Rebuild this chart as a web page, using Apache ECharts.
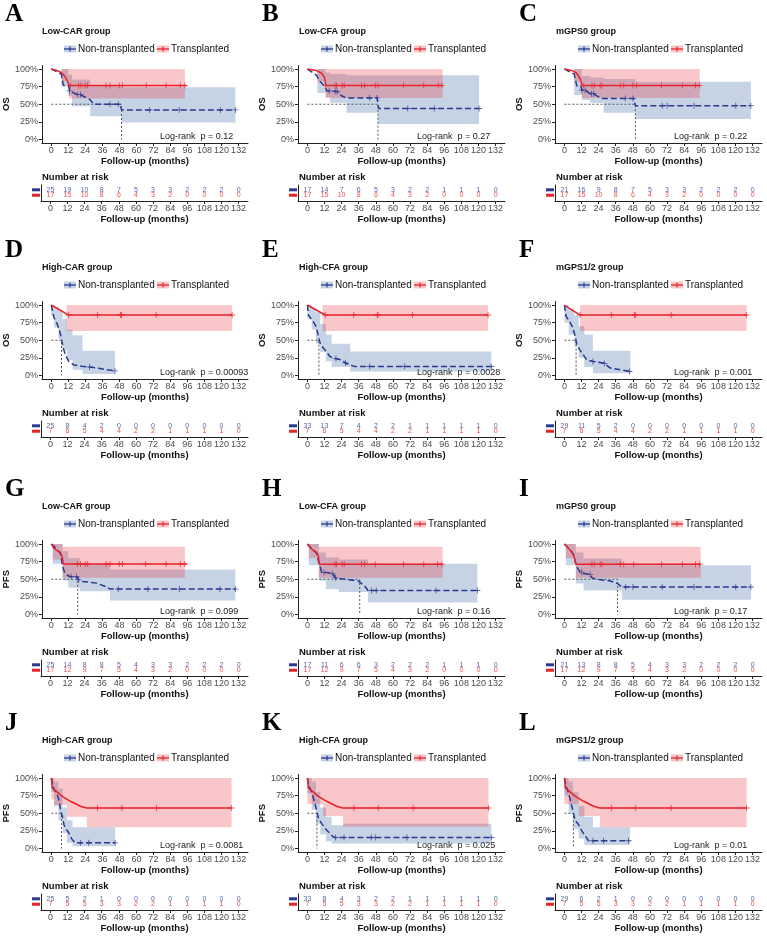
<!DOCTYPE html>
<html>
<head>
<meta charset="utf-8">
<script src="https://cdn.jsdelivr.net/npm/echarts@6/dist/echarts.min.js"></script>
<style>
html, body { margin: 0; padding: 0; background: #fff; }
#chart { width: 767px; height: 940px; }
</style>
</head>
<body>
<div id="chart"></div>
<script>
// panel texts
const panelLetters = ["A", "B", "C", "D", "E", "F", "G", "H", "I", "J", "K", "L"];
const groupTitles = [
  "Low-CAR group", "Low-CFA group", "mGPS0 group",
  "High-CAR group", "High-CFA group", "mGPS1/2 group",
  "Low-CAR group", "Low-CFA group", "mGPS0 group",
  "High-CAR group", "High-CFA group", "mGPS1/2 group"
];
const rowYNames = ["OS", "OS", "PFS", "PFS"];
const pValues = ["0.12", "0.27", "0.22", "0.00093", "0.0028", "0.001", "0.099", "0.16", "0.17", "0.0081", "0.025", "0.01"];
const timeTicks = [0, 12, 24, 36, 48, 60, 72, 84, 96, 108, 120, 132];
const pctTicks = [0, 0.25, 0.5, 0.75, 1];

// number at risk
const riskNon = [
  [25, 19, 10, 8, 7, 5, 3, 3, 2, 2, 2, 0],
  [17, 14, 7, 6, 5, 3, 2, 2, 1, 1, 1, 0],
  [21, 16, 9, 8, 7, 5, 3, 3, 2, 2, 2, 0],
  [25, 8, 4, 2, 0, 0, 0, 0, 0, 0, 0, 0],
  [33, 13, 7, 4, 2, 2, 1, 1, 1, 1, 1, 0],
  [29, 11, 5, 2, 0, 0, 0, 0, 0, 0, 0, 0],
  [25, 14, 8, 8, 5, 4, 3, 3, 2, 2, 2, 0],
  [17, 11, 6, 6, 3, 2, 2, 2, 1, 1, 1, 0],
  [21, 13, 8, 8, 5, 4, 3, 3, 2, 2, 2, 0],
  [25, 5, 2, 1, 0, 0, 0, 0, 0, 0, 0, 0],
  [33, 8, 4, 3, 2, 2, 1, 1, 1, 1, 1, 0],
  [29, 6, 2, 1, 0, 0, 0, 0, 0, 0, 0, 0]
];
const riskTx = [
  [17, 15, 10, 8, 6, 4, 3, 2, 0, 0, 0, 0],
  [17, 15, 10, 8, 6, 4, 3, 2, 0, 0, 0, 0],
  [17, 15, 10, 8, 6, 4, 3, 2, 0, 0, 0, 0],
  [7, 6, 5, 4, 4, 2, 2, 1, 1, 1, 1, 0],
  [7, 6, 5, 4, 4, 2, 2, 1, 1, 1, 1, 0],
  [7, 6, 5, 4, 4, 2, 2, 1, 1, 1, 1, 0],
  [17, 12, 9, 7, 5, 4, 3, 2, 0, 0, 0, 0],
  [17, 12, 9, 7, 5, 4, 3, 2, 0, 0, 0, 0],
  [17, 12, 9, 7, 5, 4, 3, 2, 0, 0, 0, 0],
  [7, 5, 5, 3, 3, 2, 2, 1, 1, 1, 1, 0],
  [7, 5, 5, 3, 3, 2, 2, 1, 1, 1, 1, 0],
  [7, 5, 5, 3, 3, 2, 2, 1, 1, 1, 1, 0]
];

// survival curves [month, probability]
const lineNon = [
  [[0, 1], [7, 0.93], [8.5, 0.77], [12, 0.77], [13, 0.69], [18, 0.64], [21, 0.63], [24, 0.6], [27, 0.57], [30, 0.5], [48.5, 0.5], [49.5, 0.42], [129.7, 0.42]],
  [[0, 1], [6.5, 0.91], [8, 0.84], [12.5, 0.75], [13.5, 0.69], [21, 0.68], [24, 0.62], [27, 0.59], [49, 0.59], [50, 0.44], [120.4, 0.44]],
  [[0, 1], [6.8, 0.93], [8.7, 0.76], [11.5, 0.76], [12.2, 0.7], [14.6, 0.7], [18, 0.65], [20.4, 0.65], [22.8, 0.62], [26.3, 0.58], [48.6, 0.58], [49.8, 0.48], [130.8, 0.48]],
  [[0, 1], [0.7, 0.93], [1.9, 0.82], [4.2, 0.73], [6, 0.62], [7.2, 0.53], [8.1, 0.41], [10, 0.29], [12.3, 0.2], [15.8, 0.15], [21.6, 0.13], [27, 0.12], [34.4, 0.1], [39, 0.08], [44.9, 0.066]],
  [[0, 1], [0.7, 0.86], [3, 0.79], [4.9, 0.74], [6.5, 0.67], [7.7, 0.55], [9.3, 0.43], [11.2, 0.39], [13.5, 0.33], [15.8, 0.27], [19.3, 0.24], [23.9, 0.22], [26.3, 0.18], [29.7, 0.15], [33.2, 0.127], [129, 0.127]],
  [[0, 1], [1.2, 0.84], [3.5, 0.77], [5.9, 0.68], [7.5, 0.56], [8.7, 0.44], [10.6, 0.37], [13.4, 0.29], [15.7, 0.22], [20.4, 0.2], [27.5, 0.176], [32.2, 0.105], [39.2, 0.08], [46.3, 0.057]],
  [[0, 1], [1.9, 0.97], [4.2, 0.91], [6, 0.88], [7, 0.82], [7.7, 0.7], [9.3, 0.6], [11.2, 0.56], [13.5, 0.536], [18.1, 0.536], [19.3, 0.49], [21.6, 0.47], [32, 0.445], [39, 0.39], [41.4, 0.36], [129.7, 0.36]],
  [[0, 1], [3, 0.93], [6.5, 0.87], [7.7, 0.76], [8.8, 0.69], [10, 0.595], [13.5, 0.595], [18.1, 0.58], [19.3, 0.52], [21.6, 0.514], [26.3, 0.5], [35.6, 0.476], [40.2, 0.405], [42.5, 0.34], [119.2, 0.34]],
  [[0, 1], [2.8, 0.94], [6.3, 0.86], [7.5, 0.76], [8.7, 0.676], [11, 0.605], [13.4, 0.58], [18, 0.57], [19.3, 0.52], [22.8, 0.5], [32.2, 0.476], [37.3, 0.438], [40.4, 0.39], [130.8, 0.39]],
  [[0, 1], [1.2, 0.9], [1.9, 0.84], [4.2, 0.76], [5.4, 0.69], [6.5, 0.55], [7.7, 0.46], [8.9, 0.34], [10, 0.29], [12.4, 0.22], [14.7, 0.127], [16.9, 0.08], [45, 0.08]],
  [[0, 1], [0.7, 0.91], [1.9, 0.85], [3.1, 0.79], [4.3, 0.71], [5.5, 0.62], [6.7, 0.52], [7.9, 0.42], [10.2, 0.35], [12.6, 0.28], [15, 0.23], [17.4, 0.18], [19, 0.156], [129, 0.156]],
  [[0, 1], [1.2, 0.88], [2.8, 0.79], [4, 0.7], [5.2, 0.6], [6.3, 0.51], [7.5, 0.4], [9.9, 0.34], [12.2, 0.25], [14.6, 0.18], [16.9, 0.11], [45.6, 0.11]]
];
const lineTx = [
  [[0, 1], [4, 0.98], [7, 0.95], [9, 0.91], [11, 0.85], [12.5, 0.765], [95.5, 0.765]],
  [[0, 1], [6, 0.98], [10, 0.94], [12, 0.88], [13, 0.765], [94.8, 0.765]],
  [[0, 1], [5, 0.98], [8, 0.95], [10, 0.9], [11.5, 0.84], [12.2, 0.765], [94.9, 0.765]],
  [[0, 1], [12.3, 0.858], [127.4, 0.858]],
  [[0, 1], [12.5, 0.858], [126.7, 0.858]],
  [[0, 1], [11, 0.858], [127.8, 0.858]],
  [[0, 1], [1.9, 0.94], [4.2, 0.905], [6.5, 0.877], [7.7, 0.82], [8.4, 0.716], [95.5, 0.716]],
  [[0, 1], [1.9, 0.95], [4.2, 0.91], [6.5, 0.88], [7.7, 0.83], [8.4, 0.714], [94.8, 0.714]],
  [[0, 1], [2.8, 0.94], [5.2, 0.89], [6.8, 0.82], [8, 0.714], [95.6, 0.714]],
  [[0, 1], [0.7, 0.86], [1.9, 0.835], [7.7, 0.74], [13.5, 0.67], [20.5, 0.6], [24.7, 0.575], [127, 0.575]],
  [[0, 1], [0.7, 0.86], [1.9, 0.835], [7.7, 0.74], [13.5, 0.67], [20.5, 0.6], [24.7, 0.575], [127, 0.575]],
  [[0, 1], [0.7, 0.86], [1.9, 0.835], [7.7, 0.74], [13.5, 0.67], [20.5, 0.6], [24.7, 0.575], [127.8, 0.575]]
];

// censored observations [month, probability]
const censorNon = [
  [[12.8, 0.69], [18.6, 0.64], [20.5, 0.64], [41.4, 0.5], [47.2, 0.5], [69.3, 0.42], [90.2, 0.42], [119.2, 0.42], [129.7, 0.42]],
  [[15.3, 0.69], [19.5, 0.68], [20.9, 0.68], [43.7, 0.59], [48.8, 0.59], [70.4, 0.44], [89, 0.44], [120.4, 0.44]],
  [[12.2, 0.7], [14.6, 0.7], [19, 0.65], [20.4, 0.65], [42.7, 0.58], [48.1, 0.58], [68.6, 0.48], [72.1, 0.48], [90.9, 0.48], [120.2, 0.48], [130.8, 0.48]],
  [[27, 0.12], [44.9, 0.066]],
  [[20, 0.24], [26.7, 0.18], [43.7, 0.127], [68, 0.127], [129, 0.127]],
  [[20, 0.2], [28, 0.17], [45.6, 0.057]],
  [[14, 0.536], [17.7, 0.536], [19.3, 0.49], [47.2, 0.36], [68.1, 0.36], [90.2, 0.36], [118.8, 0.36], [129.7, 0.36]],
  [[11.6, 0.595], [17.4, 0.58], [19.7, 0.52], [45, 0.34], [48.3, 0.34], [90.2, 0.34], [119.2, 0.34]],
  [[12.2, 0.6], [18, 0.57], [43, 0.39], [48.1, 0.39], [68.6, 0.39], [90.9, 0.39], [120.2, 0.39], [130.8, 0.39]],
  [[20.5, 0.08], [26.4, 0.08], [45, 0.08]],
  [[19.8, 0.156], [25.7, 0.156], [44.8, 0.156], [47.6, 0.156], [69.8, 0.156], [129, 0.156]],
  [[20, 0.11], [27.5, 0.11], [45, 0.11]]
];
const censorTx = [
  [[13.5, 0.765], [19.3, 0.765], [20.9, 0.765], [23.9, 0.765], [25.6, 0.765], [38.6, 0.765], [41.4, 0.765], [47.9, 0.765], [50.2, 0.765], [66.9, 0.765], [80.9, 0.765], [90.9, 0.765], [94.1, 0.765]],
  [[12.8, 0.765], [19.3, 0.765], [20.4, 0.765], [24.4, 0.765], [25.8, 0.765], [37.9, 0.765], [40.2, 0.765], [47.6, 0.765], [49.5, 0.765], [67.4, 0.765], [81.6, 0.765], [91.8, 0.765], [94.4, 0.765]],
  [[13.5, 0.765], [19.3, 0.765], [20.9, 0.765], [25.1, 0.765], [26.3, 0.765], [39.2, 0.765], [41.6, 0.765], [48.1, 0.765], [50.5, 0.765], [68.1, 0.765], [82.7, 0.765], [92, 0.765], [94.9, 0.765]],
  [[12.3, 0.858], [32.5, 0.858], [48.8, 0.858], [49.5, 0.858], [73.9, 0.858], [127.4, 0.858]],
  [[12.5, 0.858], [32.5, 0.858], [49, 0.858], [49.5, 0.858], [73.7, 0.858], [126.7, 0.858]],
  [[11, 0.858], [32.9, 0.858], [49.1, 0.858], [49.8, 0.858], [74.9, 0.858], [127.8, 0.858]],
  [[18.6, 0.716], [20.5, 0.716], [23.9, 0.716], [25.6, 0.716], [38.6, 0.716], [41.4, 0.716], [47.9, 0.716], [50.2, 0.716], [66.5, 0.716], [80.9, 0.716], [90.9, 0.716], [94.1, 0.716]],
  [[19.3, 0.714], [20.4, 0.714], [24.4, 0.714], [25.8, 0.714], [37.9, 0.714], [40.2, 0.714], [47.6, 0.714], [67.4, 0.714], [81.6, 0.714], [91.3, 0.714], [94.4, 0.714]],
  [[19.3, 0.714], [20.9, 0.714], [25.1, 0.714], [26.3, 0.714], [39.2, 0.714], [41.6, 0.714], [48.6, 0.714], [68.1, 0.714], [82.7, 0.714], [92, 0.714], [94.9, 0.714]],
  [[32.6, 0.575], [49.7, 0.575], [74.2, 0.575], [127, 0.575]],
  [[32.6, 0.575], [49.7, 0.575], [74.2, 0.575], [127, 0.575]],
  [[32.9, 0.575], [50, 0.575], [74.9, 0.575], [127.8, 0.575]]
];

// 95% CI steps [from, to, lower, upper]
const bandNon = [
  [[7, 12, 0.75, 1], [12, 14.6, 0.62, 0.92], [14.6, 27.4, 0.47, 0.85], [27.4, 49.5, 0.33, 0.77], [49.5, 129.7, 0.24, 0.74]],
  [[7, 12.8, 0.66, 1], [12.8, 15.8, 0.6, 0.95], [15.8, 27.4, 0.52, 0.93], [27.4, 49.5, 0.38, 0.91], [49.5, 120.4, 0.22, 0.91]],
  [[6.8, 12.2, 0.63, 1], [12.2, 18, 0.56, 0.9], [18, 27.5, 0.52, 0.88], [27.5, 49.8, 0.38, 0.86], [49.8, 130.8, 0.29, 0.82]],
  [[0, 2, 0.85, 1], [2, 5, 0.68, 0.97], [5, 8, 0.52, 0.92], [8, 11, 0.35, 0.8], [11, 15, 0.22, 0.65], [15, 22, 0.08, 0.57], [22, 44.9, 0.02, 0.35]],
  [[0, 3, 0.8, 1], [3, 6, 0.65, 0.95], [6, 9, 0.45, 0.9], [9, 13, 0.33, 0.73], [13, 17, 0.2, 0.58], [17, 30, 0.12, 0.45], [30, 129, 0.056, 0.34]],
  [[0, 3, 0.75, 1], [3, 7, 0.58, 0.95], [7, 10, 0.42, 0.85], [10, 14, 0.25, 0.7], [14, 20, 0.12, 0.58], [20, 46.3, 0.03, 0.35]],
  [[1, 8, 0.72, 1], [8, 12, 0.48, 0.9], [12, 20, 0.38, 0.8], [20, 41.4, 0.33, 0.72], [41.4, 129.7, 0.2, 0.64]],
  [[1, 8, 0.7, 1], [8, 13, 0.48, 0.88], [13, 22, 0.36, 0.81], [22, 42.5, 0.32, 0.78], [42.5, 119.2, 0.17, 0.72]],
  [[1, 8, 0.7, 1], [8, 13.4, 0.44, 0.88], [13.4, 40.4, 0.34, 0.795], [40.4, 130.8, 0.21, 0.7]],
  [[0, 2, 0.8, 1], [2, 5, 0.6, 0.95], [5, 8, 0.4, 0.85], [8, 11, 0.22, 0.58], [11, 15, 0.08, 0.4], [15, 45, 0.03, 0.3]],
  [[0, 3, 0.78, 1], [3, 6, 0.55, 0.95], [6, 9, 0.35, 0.8], [9, 13, 0.2, 0.58], [13, 17, 0.1, 0.45], [17, 25, 0.07, 0.33], [25, 129, 0.07, 0.35]],
  [[0, 3, 0.75, 1], [3, 6, 0.5, 0.95], [6, 10, 0.28, 0.8], [10, 14, 0.14, 0.6], [14, 20, 0.05, 0.45], [20, 46, 0.05, 0.3]]
];
const bandTx = [
  [[7.5, 12.5, 0.82, 1], [12.5, 94.1, 0.58, 1]],
  [[7, 12.8, 0.82, 1], [12.8, 94.8, 0.59, 1]],
  [[7, 12.2, 0.82, 1], [12.2, 94.9, 0.59, 1]],
  [[10.7, 127.4, 0.63, 1]],
  [[10.7, 126.7, 0.63, 1]],
  [[11, 127.8, 0.63, 1]],
  [[1, 8, 0.78, 1], [8, 94.1, 0.52, 0.96]],
  [[1, 8, 0.8, 1], [8, 94.8, 0.52, 0.96]],
  [[1, 8, 0.8, 1], [8, 95.6, 0.52, 0.96]],
  [[0, 2, 0.7, 1], [2, 11, 0.62, 1], [11, 25, 0.45, 1], [25, 127, 0.3, 1]],
  [[0, 11, 0.63, 1], [11, 25, 0.46, 1], [25, 127, 0.31, 1]],
  [[0, 10, 0.63, 1], [10, 25, 0.46, 1], [25, 127.8, 0.3, 1]]
];

// median survival of the non-transplanted group (months)
const medianNon = [49.5, 49.5, 49.8, 7.2, 8.1, 8.2, 18.6, 36.7, 37.3, 7.2, 6.7, 6.3];

const FONT = "Liberation Sans";
const BLUE = "#2b3990";
const RED = "#e8222a";
const BLUE_FILL = "rgba(65,110,170,0.3)";
const RED_FILL = "rgba(235,50,60,0.28)";
const BLUE_KEY = "#c6d4e6";
const RED_KEY = "#f9c6c8";
const PLUS = "path://M4.3,0H5.7V10H4.3Z M0,4.3H10V5.7H0Z";
const colX = [0, 257, 514];
const rowY = [0, 236, 475, 709];
const ROW_NON = 0.7;
const ROW_TX = 0.36;

function timeAxis(gi) {
  return {
    gridIndex: gi,
    type: "value",
    min: -6.6,
    max: 138.6,
    axisLine: { show: true, onZero: false, lineStyle: { color: "#222", width: 1 } },
    axisTick: { show: true, customValues: timeTicks, length: 3, lineStyle: { color: "#222" } },
    axisLabel: { customValues: timeTicks, fontSize: 9, color: "#4d4d4d", margin: 3, fontFamily: FONT },
    splitLine: { show: false },
    name: "Follow-up (months)",
    nameLocation: "middle",
    nameGap: 13,
    nameTextStyle: { fontSize: 9.5, fontWeight: "bold", color: "#111", fontFamily: FONT }
  };
}

function bandRender(fill) {
  return function (params, api) {
    const a = api.coord([api.value(0), api.value(3)]);
    const b = api.coord([api.value(1), api.value(2)]);
    return {
      type: "rect",
      shape: { x: a[0], y: a[1], width: b[0] - a[0], height: b[1] - a[1] },
      style: { fill: fill }
    };
  };
}

function txt(x, y, text, size, weight, color, family) {
  return {
    type: "text",
    x: x,
    y: y,
    silent: true,
    style: {
      text: text,
      fontSize: size,
      fontWeight: weight,
      fontFamily: family || FONT,
      fill: color,
      align: "left",
      verticalAlign: "middle"
    }
  };
}

function legendKey(x, y, fill, stroke) {
  return [
    { type: "rect", silent: true, shape: { x: x, y: y - 3.5, width: 12, height: 7 }, style: { fill: fill } },
    { type: "line", silent: true, shape: { x1: x, y1: y, x2: x + 12, y2: y }, style: { stroke: stroke, lineWidth: 1.3 } },
    { type: "line", silent: true, shape: { x1: x + 6, y1: y - 2.5, x2: x + 6, y2: y + 2.5 }, style: { stroke: stroke, lineWidth: 1.2 } }
  ];
}

const grid = [];
const xAxis = [];
const yAxis = [];
const series = [];
const graphic = [];

for (let i = 0; i < 12; i++) {
  const row = Math.floor(i / 3);
  const ox = colX[i % 3];
  const oy = rowY[row];
  const g = i * 2;

  grid.push({ left: ox + 41, top: oy + 65.5, width: 207, height: 77.5 });
  grid.push({ left: ox + 41, top: oy + 185, width: 207, height: 16 });

  xAxis.push(timeAxis(g));
  xAxis.push(timeAxis(g + 1));

  yAxis.push({
    gridIndex: g,
    type: "value",
    min: -0.05,
    max: 1.05,
    axisLine: { show: true, onZero: false, lineStyle: { color: "#222", width: 1 } },
    axisTick: { show: true, customValues: pctTicks, length: 3, lineStyle: { color: "#222" } },
    axisLabel: {
      customValues: pctTicks,
      formatter: v => Math.round(v * 100) + "%",
      fontSize: 9,
      color: "#4d4d4d",
      margin: 4,
      fontFamily: FONT
    },
    splitLine: { show: false },
    name: rowYNames[row],
    nameLocation: "middle",
    nameGap: 27,
    nameTextStyle: { fontSize: 9.5, fontWeight: "bold", color: "#111", fontFamily: FONT }
  });
  yAxis.push({
    gridIndex: g + 1,
    type: "value",
    min: 0,
    max: 1,
    axisLine: { show: true, onZero: false, lineStyle: { color: "#222", width: 1 } },
    axisTick: { show: false },
    axisLabel: {
      customValues: [ROW_TX, ROW_NON],
      formatter: v => (v > 0.5 ? "{n| }" : "{t| }"),
      margin: 1,
      rich: {
        n: { width: 8, height: 3, lineHeight: 3, fontSize: 1, backgroundColor: BLUE },
        t: { width: 8, height: 3, lineHeight: 3, fontSize: 1, backgroundColor: RED }
      }
    },
    splitLine: { show: false }
  });

  // confidence bands
  series.push({
    type: "custom", xAxisIndex: g, yAxisIndex: g, silent: true, z: 1,
    encode: { x: [0, 1], y: [2, 3] },
    data: bandNon[i], renderItem: bandRender(BLUE_FILL)
  });
  series.push({
    type: "custom", xAxisIndex: g, yAxisIndex: g, silent: true, z: 1,
    encode: { x: [0, 1], y: [2, 3] },
    data: bandTx[i], renderItem: bandRender(RED_FILL)
  });
  // median line
  const m = medianNon[i];
  series.push({
    type: "line", xAxisIndex: g, yAxisIndex: g, silent: true, z: 2,
    data: [[0, 0.5], [m, 0.5], [m, 0]],
    showSymbol: false,
    lineStyle: { color: "#555", width: 1, type: [2, 2] }
  });
  // curves
  series.push({
    name: "Non-transplanted", type: "line", xAxisIndex: g, yAxisIndex: g, silent: true, z: 4,
    data: lineNon[i], showSymbol: false,
    lineStyle: { color: BLUE, width: 1.5, type: [6, 3] }
  });
  series.push({
    name: "Transplanted", type: "line", xAxisIndex: g, yAxisIndex: g, silent: true, z: 5,
    data: lineTx[i], showSymbol: false,
    lineStyle: { color: RED, width: 1.5 }
  });
  // censor marks
  series.push({
    type: "scatter", xAxisIndex: g, yAxisIndex: g, silent: true, z: 6,
    data: censorNon[i], symbol: PLUS, symbolSize: 6, itemStyle: { color: BLUE }
  });
  series.push({
    type: "scatter", xAxisIndex: g, yAxisIndex: g, silent: true, z: 6,
    data: censorTx[i], symbol: PLUS, symbolSize: 6, itemStyle: { color: RED }
  });
  // risk table
  series.push({
    type: "scatter", xAxisIndex: g + 1, yAxisIndex: g + 1, silent: true,
    data: riskNon[i].map((n, k) => [timeTicks[k], ROW_NON, n]),
    symbolSize: 0,
    label: { show: true, position: "inside", formatter: p => String(p.value[2]), fontSize: 7, color: BLUE, fontFamily: FONT }
  });
  series.push({
    type: "scatter", xAxisIndex: g + 1, yAxisIndex: g + 1, silent: true,
    data: riskTx[i].map((n, k) => [timeTicks[k], ROW_TX, n]),
    symbolSize: 0,
    label: { show: true, position: "inside", formatter: p => String(p.value[2]), fontSize: 7, color: RED, fontFamily: FONT }
  });

  // texts and legend
  graphic.push(txt(ox + 5, oy + 15, panelLetters[i], 25, "bold", "#000", "Liberation Serif"));
  graphic.push(txt(ox + 42, oy + 32, groupTitles[i], 9, "bold", "#111"));
  graphic.push(...legendKey(ox + 64, oy + 49, BLUE_KEY, BLUE));
  graphic.push(txt(ox + 78, oy + 49, "Non-transplanted", 10, "normal", "#111"));
  graphic.push(...legendKey(ox + 157, oy + 49, RED_KEY, RED));
  graphic.push(txt(ox + 171, oy + 49, "Transplanted", 10, "normal", "#111"));
  graphic.push(txt(ox + 160, oy + 137, "Log-rank  p = " + pValues[i], 9, "normal", "#222"));
  graphic.push(txt(ox + 42, oy + 177, "Number at risk", 9.5, "bold", "#111"));
}

const chart = echarts.init(document.getElementById("chart"), null, { renderer: "canvas" });
chart.setOption({
  backgroundColor: "#fff",
  animation: false,
  textStyle: { fontFamily: FONT },
  grid: grid,
  xAxis: xAxis,
  yAxis: yAxis,
  series: series,
  graphic: graphic
});
</script>
</body>
</html>
